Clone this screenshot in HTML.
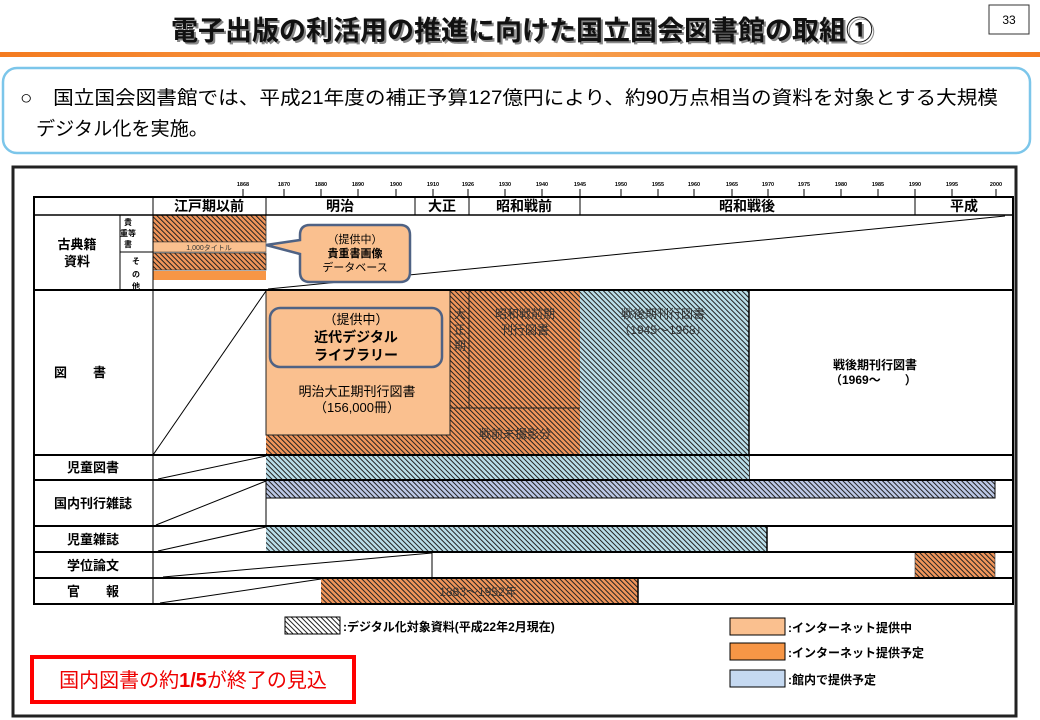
<!DOCTYPE html>
<html><head><meta charset="utf-8"><style>
html,body{margin:0;padding:0;background:#fff;}
svg{display:block;font-family:"Liberation Sans","Noto Sans CJK JP",sans-serif;}
</style></head><body>
<svg width="1040" height="720" viewBox="0 0 1040 720" xmlns="http://www.w3.org/2000/svg">
<defs>
<pattern id="ho" width="3.5" height="3.5" patternUnits="userSpaceOnUse" patternTransform="rotate(-45)">
<rect width="3.5" height="3.5" fill="#f0955a"/><rect x="0" width="1" height="3.5" fill="#222"/></pattern>
<pattern id="hb" width="3.5" height="3.5" patternUnits="userSpaceOnUse" patternTransform="rotate(-45)">
<rect width="3.5" height="3.5" fill="#b9dde8"/><rect x="0" width="1" height="3.5" fill="#222"/></pattern>
<pattern id="hbb" width="3.5" height="3.5" patternUnits="userSpaceOnUse" patternTransform="rotate(-45)">
<rect width="3.5" height="3.5" fill="#bcc8e6"/><rect x="0" width="1" height="3.5" fill="#222"/></pattern>
<pattern id="hw" width="3.5" height="3.5" patternUnits="userSpaceOnUse" patternTransform="rotate(-45)">
<rect width="3.5" height="3.5" fill="#fff"/><rect x="0" width="1" height="3.5" fill="#222"/></pattern>
<linearGradient id="og" x1="0" x2="1"><stop offset="0" stop-color="#f47b20"/><stop offset="0.5" stop-color="#f7a050"/><stop offset="1" stop-color="#f47b20"/></linearGradient>
</defs>
<text x="522" y="40" font-size="27" font-weight="bold" text-anchor="middle" fill="#888" transform="translate(2,2)">電子出版の利活用の推進に向けた国立国会図書館の取組①</text>
<text x="522" y="40" font-size="27" font-weight="bold" text-anchor="middle" fill="#111">電子出版の利活用の推進に向けた国立国会図書館の取組①</text>
<rect x="989" y="5" width="40" height="29" fill="#fff" stroke="#333" stroke-width="1"/>
<text x="1009" y="24" font-size="12" text-anchor="middle">33</text>
<rect x="0" y="52" width="1040" height="5" fill="url(#og)"/>
<rect x="3" y="68" width="1027" height="85" rx="14" fill="#fff" stroke="#7cc6ea" stroke-width="2.5"/>
<text x="20" y="104" font-size="19" textLength="978" lengthAdjust="spacingAndGlyphs">○　国立国会図書館では、平成21年度の補正予算127億円により、約90万点相当の資料を対象とする大規模</text>
<text x="36" y="135" font-size="19" textLength="172" lengthAdjust="spacingAndGlyphs">デジタル化を実施。</text>
<rect x="13" y="167" width="1003" height="549" fill="#fff" stroke="#222" stroke-width="3"/>
<g stroke="#000" stroke-width="1">
<line x1="243" y1="189" x2="243" y2="197"/><line x1="284" y1="189" x2="284" y2="197"/><line x1="321" y1="189" x2="321" y2="197"/><line x1="358" y1="189" x2="358" y2="197"/><line x1="396" y1="189" x2="396" y2="197"/><line x1="433" y1="189" x2="433" y2="197"/><line x1="468" y1="189" x2="468" y2="197"/><line x1="505" y1="189" x2="505" y2="197"/><line x1="542" y1="189" x2="542" y2="197"/><line x1="580" y1="189" x2="580" y2="197"/><line x1="621" y1="189" x2="621" y2="197"/><line x1="658" y1="189" x2="658" y2="197"/><line x1="694" y1="189" x2="694" y2="197"/><line x1="732" y1="189" x2="732" y2="197"/><line x1="768" y1="189" x2="768" y2="197"/><line x1="804" y1="189" x2="804" y2="197"/><line x1="841" y1="189" x2="841" y2="197"/><line x1="878" y1="189" x2="878" y2="197"/><line x1="915" y1="189" x2="915" y2="197"/><line x1="952" y1="189" x2="952" y2="197"/><line x1="996" y1="189" x2="996" y2="197"/>
</g>
<g font-size="5.5" font-weight="bold" text-anchor="middle">
<text x="243" y="186">1868</text><text x="284" y="186">1870</text><text x="321" y="186">1880</text><text x="358" y="186">1890</text><text x="396" y="186">1900</text><text x="433" y="186">1910</text><text x="468" y="186">1926</text><text x="505" y="186">1930</text><text x="542" y="186">1940</text><text x="580" y="186">1945</text><text x="621" y="186">1950</text><text x="658" y="186">1955</text><text x="694" y="186">1960</text><text x="732" y="186">1965</text><text x="768" y="186">1970</text><text x="804" y="186">1975</text><text x="841" y="186">1980</text><text x="878" y="186">1985</text><text x="915" y="186">1990</text><text x="952" y="186">1995</text><text x="996" y="186">2000</text>
</g>
<rect x="153" y="215" width="113" height="27" fill="url(#ho)" stroke="#333" stroke-width="0.8"/>
<rect x="153" y="242" width="113" height="10" fill="#fac08f" stroke="#333" stroke-width="0.5"/>
<text x="209" y="250" font-size="7" text-anchor="middle" fill="#333">1,000タイトル</text>
<rect x="153" y="253" width="113" height="17" fill="url(#ho)" stroke="#333" stroke-width="0.8"/>
<rect x="153" y="271" width="113" height="9" fill="#f79646"/>
<rect x="266" y="290" width="314" height="165" fill="url(#ho)"/>
<rect x="266" y="290" width="184" height="145" fill="#fac08f" stroke="#222" stroke-width="1"/>
<line x1="450" y1="408" x2="580" y2="408" stroke="#222" stroke-width="1"/>
<line x1="469" y1="290" x2="469" y2="408" stroke="#222" stroke-width="1"/>
<rect x="580" y="290" width="169" height="165" fill="url(#hb)"/>
<line x1="749" y1="290" x2="749" y2="480" stroke="#000" stroke-width="1.5"/>
<rect x="270" y="308" width="172" height="59" rx="10" fill="#fac08f" stroke="#4f6284" stroke-width="2.5"/>
<text x="356" y="324" font-size="13" text-anchor="middle">（提供中）</text>
<text x="356" y="342" font-size="14" font-weight="bold" text-anchor="middle">近代デジタル</text>
<text x="356" y="360" font-size="14" font-weight="bold" text-anchor="middle">ライブラリー</text>
<text x="357" y="396" font-size="13" text-anchor="middle">明治大正期刊行図書</text>
<text x="357" y="412" font-size="13" text-anchor="middle">（156,000冊）</text>
<g font-size="12" fill="#333" text-anchor="middle">
<text x="460" y="318">大</text><text x="460" y="334">正</text><text x="460" y="350">期</text>
<text x="525" y="318">昭和戦前期</text><text x="525" y="334">刊行図書</text>
<text x="515" y="438">戦前未撮影分</text>
<text x="663" y="318">戦後期刊行図書</text><text x="663" y="334">（1945～1968）</text>
</g>
<text x="875" y="369" font-size="12" font-weight="bold" text-anchor="middle">戦後期刊行図書</text>
<text x="830" y="384" font-size="12" font-weight="bold">（1969～　　）</text>
<rect x="266" y="455" width="483" height="25" fill="url(#hb)"/>
<rect x="266" y="480" width="729" height="18" fill="url(#hbb)" stroke="#000" stroke-width="1"/>
<rect x="266" y="526" width="501" height="26" fill="url(#hb)"/>
<line x1="767" y1="526" x2="767" y2="552" stroke="#000" stroke-width="1.5"/>
<rect x="915" y="552" width="80" height="26" fill="url(#ho)" stroke="#333" stroke-width="0.6"/>
<rect x="321" y="578" width="317" height="26" fill="url(#ho)"/>
<line x1="638" y1="578" x2="638" y2="604" stroke="#000" stroke-width="1.5"/>
<text x="478" y="596" font-size="12" text-anchor="middle" fill="#333">1883～1952年</text>
<line x1="432" y1="552" x2="432" y2="578" stroke="#000" stroke-width="1"/>
<line x1="266" y1="480" x2="266" y2="526" stroke="#000" stroke-width="1"/>
<g stroke="#000" stroke-width="1">
<line x1="268" y1="289" x2="1005" y2="216"/>
<line x1="153" y1="455" x2="266" y2="291"/>
<line x1="158" y1="479" x2="266" y2="456"/>
<line x1="156" y1="525" x2="266" y2="481"/>
<line x1="158" y1="551" x2="266" y2="527"/>
<line x1="163" y1="577" x2="432" y2="553"/>
<line x1="160" y1="603" x2="321" y2="579"/>
</g>
<g stroke="#000" fill="none">
<rect x="34" y="197" width="979" height="407" stroke-width="2"/>
<line x1="34" y1="215" x2="1013" y2="215" stroke-width="1.5"/>
<line x1="34" y1="290" x2="1013" y2="290" stroke-width="2"/>
<line x1="34" y1="455" x2="1013" y2="455" stroke-width="2"/>
<line x1="34" y1="480" x2="1013" y2="480" stroke-width="2"/>
<line x1="34" y1="526" x2="1013" y2="526" stroke-width="2"/>
<line x1="34" y1="552" x2="1013" y2="552" stroke-width="2"/>
<line x1="34" y1="578" x2="1013" y2="578" stroke-width="2"/>
<line x1="153" y1="197" x2="153" y2="604" stroke-width="1"/>
<line x1="120" y1="215" x2="120" y2="290" stroke-width="1"/>
<line x1="120" y1="252" x2="153" y2="252" stroke-width="1"/>
<line x1="266" y1="197" x2="266" y2="215" stroke-width="1"/>
<line x1="415" y1="197" x2="415" y2="215" stroke-width="1"/>
<line x1="469" y1="197" x2="469" y2="215" stroke-width="1"/>
<line x1="580" y1="197" x2="580" y2="215" stroke-width="1"/>
<line x1="915" y1="197" x2="915" y2="215" stroke-width="1"/>
</g>
<g font-size="14" font-weight="bold" text-anchor="middle">
<text x="209" y="211">江戸期以前</text><text x="340" y="211">明治</text><text x="442" y="211">大正</text><text x="524" y="211">昭和戦前</text><text x="747" y="211">昭和戦後</text><text x="964" y="211">平成</text>
</g>
<g font-size="13" font-weight="bold" text-anchor="middle">
<text x="77" y="249">古典籍</text><text x="77" y="266">資料</text>
<text x="80" y="377">図　　書</text>
<text x="93" y="472">児童図書</text>
<text x="93" y="508">国内刊行雑誌</text>
<text x="93" y="544">児童雑誌</text>
<text x="93" y="570">学位論文</text>
<text x="93" y="596">官　　報</text>
</g>
<g font-size="8" font-weight="bold" text-anchor="middle">
<text x="128" y="225">貴</text><text x="128" y="236">重等</text><text x="128" y="247">書</text>
<text x="136" y="264">そ</text><text x="136" y="277">の</text><text x="136" y="289">他</text>
</g>
<path d="M310,225 H400 Q410,225 410,235 V272 Q410,282 400,282 H310 Q300,282 300,272 V254 L266,245 L300,240 V235 Q300,225 310,225 Z" fill="#fac08f" stroke="#4f6284" stroke-width="2.5"/>
<text x="355" y="243" font-size="11" text-anchor="middle">（提供中）</text>
<text x="355" y="257" font-size="11" font-weight="bold" text-anchor="middle">貴重書画像</text>
<text x="355" y="271" font-size="11" text-anchor="middle">データベース</text>
<rect x="285" y="617" width="55" height="17" fill="url(#hw)" stroke="#000" stroke-width="1"/>
<text x="343" y="631" font-size="12" font-weight="bold">:デジタル化対象資料(平成22年2月現在)</text>
<rect x="730" y="618" width="55" height="17" fill="#fac08f" stroke="#000" stroke-width="1"/>
<text x="788" y="632" font-size="12" font-weight="bold">:インターネット提供中</text>
<rect x="730" y="643" width="55" height="17" fill="#f79646" stroke="#000" stroke-width="1"/>
<text x="788" y="657" font-size="12" font-weight="bold">:インターネット提供予定</text>
<rect x="730" y="670" width="55" height="17" fill="#c5d9f1" stroke="#000" stroke-width="1"/>
<text x="788" y="684" font-size="12" font-weight="bold">:館内で提供予定</text>
<rect x="32" y="657" width="322" height="45" fill="#fff" stroke="#f00" stroke-width="4"/>
<text x="193" y="687" font-size="20" fill="#e00" text-anchor="middle">国内図書の約<tspan font-weight="bold">1/5</tspan>が終了の見込</text>
</svg>
</body></html>
